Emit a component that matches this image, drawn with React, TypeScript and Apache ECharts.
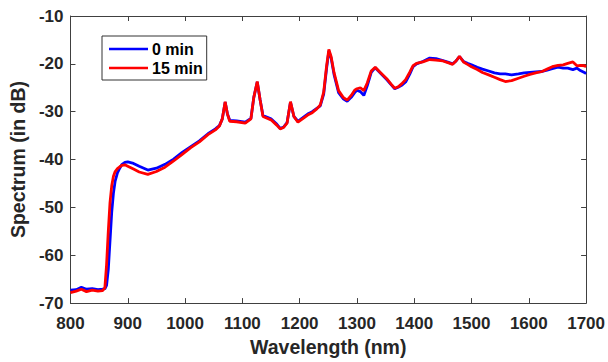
import React, { useEffect, useRef } from "react";
import * as echarts from "echarts";

const wavelengths = [800, 810, 819, 828, 838, 848, 856, 860, 863, 866, 869, 872, 875, 878, 882, 886, 890, 895, 900, 910, 920, 935, 950, 965, 980, 995, 1010, 1025, 1040, 1053, 1060, 1065, 1070, 1074, 1078, 1090, 1105, 1115, 1120, 1126, 1131, 1136, 1150, 1160, 1166, 1172, 1178, 1184, 1190, 1197, 1205, 1214, 1222, 1230, 1236, 1242, 1247, 1251, 1255, 1260, 1268, 1276, 1283, 1290, 1296, 1300, 1306, 1312, 1318, 1325, 1332, 1340, 1352, 1360, 1366, 1372, 1378, 1385, 1392, 1398, 1404, 1415, 1427, 1438, 1450, 1460, 1467, 1473, 1479, 1486, 1493, 1500, 1510, 1519, 1530, 1540, 1550, 1559, 1570, 1582, 1592, 1602, 1612, 1623, 1632, 1641, 1651, 1660, 1668, 1677, 1684, 1690, 1697, 1700];

const spectrum0min = [-67.3, -67.2, -66.7, -67.1, -67.0, -67.2, -67.1, -67.0, -66.3, -63, -57, -51, -47, -44.5, -42.8, -41.8, -41.0, -40.6, -40.5, -40.8, -41.4, -42.2, -41.8, -41.0, -39.9, -38.5, -37.3, -36.1, -34.6, -33.6, -32.9, -31.5, -28.0, -30.5, -31.8, -31.9, -32.2, -31.4, -27, -23.8, -27.5, -30.8, -31.5, -32.6, -33.5, -33.2, -32.3, -28.0, -31.0, -32.0, -31.3, -30.5, -30.0, -29.3, -28.8, -26.3, -21, -17.3, -18.8, -22.2, -26.0, -27.3, -27.8, -27.0, -26.0, -25.5, -25.8, -26.6, -24.6, -21.8, -20.8, -21.8, -23.3, -24.4, -25.2, -24.9, -24.5, -23.8, -22.2, -20.6, -20.0, -19.5, -18.8, -18.9, -19.3, -19.7, -20.0, -19.4, -18.5, -19.5, -19.9, -20.2, -20.7, -21.1, -21.5, -21.9, -22.1, -22.1, -22.3, -22.1, -21.9, -21.8, -21.7, -21.6, -21.3, -21.0, -20.7, -20.9, -20.9, -21.2, -20.9, -21.4, -21.8, -22.0];

const spectrum15min = [-67.8, -67.5, -67.1, -67.6, -67.3, -67.5, -67.4, -66.8, -62, -55, -49, -45.5, -43.5, -42.5, -41.9, -41.5, -41.2, -41.1, -41.4, -42.0, -42.6, -43.1, -42.5, -41.6, -40.3, -38.9, -37.5, -36.3, -34.8, -33.8, -33.0, -31.5, -27.9, -30.5, -32.0, -32.1, -32.4, -31.5, -27, -23.7, -27.5, -31.0, -31.7, -32.8, -33.6, -33.3, -32.4, -27.9, -31.0, -32.2, -31.5, -30.7, -30.2, -29.4, -28.6, -25.9, -20.5, -17.0, -18.5, -21.8, -25.6, -27.0, -27.6, -26.6, -25.5, -25.2, -25.0, -25.6, -24.0, -21.5, -20.7, -21.7, -23.1, -24.3, -25.1, -24.8, -24.2, -23.3, -21.8, -20.4, -19.9, -19.6, -19.1, -19.2, -19.4, -19.8, -20.1, -19.4, -18.4, -19.6, -20.1, -20.6, -21.2, -21.8, -22.3, -22.8, -23.3, -23.7, -23.5, -23.0, -22.6, -22.2, -21.9, -21.6, -21.1, -20.6, -20.3, -20.2, -19.9, -19.6, -20.4, -20.3, -20.4, -20.6];

const seriesNames = ["0 min", "15 min"];
const seriesColors = ["#0000FF", "#FF0000"];

const textColor = "#262626";
const axisColor = "#404040";
const fontFamily = "'Liberation Sans', Arial, sans-serif";

export default function App() {
  const ref = useRef<HTMLDivElement>(null);
  useEffect(() => {
    if (!ref.current) return;
    const chart = echarts.init(ref.current, undefined, { renderer: "svg" });
    const tickStyle = { show: true, inside: true, length: 5, lineStyle: { color: axisColor } };
    const lineStyle = { show: true, onZero: false, lineStyle: { color: axisColor, width: 1 } };
    chart.setOption({
      animation: false,
      backgroundColor: "#ffffff",
      grid: { left: 67, top: 16, right: 20, bottom: 54, containLabel: false },
      legend: {
        data: seriesNames,
        orient: "vertical",
        left: 102,
        top: 36,
        padding: [5, 4, 4, 7],
        itemGap: 3,
        itemWidth: 39,
        itemHeight: 2.5,
        icon: "rect",
        borderColor: "#333",
        borderWidth: 1,
        backgroundColor: "#fff",
        textStyle: { color: "#000", fontSize: 16, fontWeight: "bold", fontFamily, lineHeight: 16, padding: [0, 0, 0, -1] },
      },
      xAxis: [
        {
          type: "value",
          min: 800,
          max: 1700,
          interval: 100,
          name: "Wavelength (nm)",
          nameLocation: "middle",
          nameGap: 33,
          nameTextStyle: { color: textColor, fontSize: 19.5, fontWeight: "bold", fontFamily },
          axisLine: lineStyle,
          axisTick: tickStyle,
          axisLabel: { color: textColor, fontSize: 17, fontWeight: "bold", fontFamily, margin: 12, formatter: (v: number) => String(v) },
          splitLine: { show: false },
        },
        {
          type: "value",
          position: "top",
          min: 800,
          max: 1700,
          interval: 100,
          axisLine: lineStyle,
          axisTick: tickStyle,
          axisLabel: { show: false },
          splitLine: { show: false },
        },
      ],
      yAxis: [
        {
          type: "value",
          min: -70,
          max: -10,
          interval: 10,
          name: "Spectrum (in dB)",
          nameLocation: "middle",
          nameGap: 37,
          nameTextStyle: { color: textColor, fontSize: 19.5, fontWeight: "bold", fontFamily },
          axisLine: lineStyle,
          axisTick: tickStyle,
          axisLabel: { color: textColor, fontSize: 17, fontWeight: "bold", fontFamily, margin: 7 },
          splitLine: { show: false },
        },
        {
          type: "value",
          position: "right",
          min: -70,
          max: -10,
          interval: 10,
          axisLine: lineStyle,
          axisTick: tickStyle,
          axisLabel: { show: false },
          splitLine: { show: false },
        },
      ],
      series: [spectrum0min, spectrum15min].map((vals, i) => ({
        name: seriesNames[i],
        type: "line",
        xAxisIndex: 0,
        yAxisIndex: 0,
        data: wavelengths.map((w, j) => [w, vals[j]]),
        showSymbol: false,
        symbol: "none",
        smooth: false,
        itemStyle: { color: seriesColors[i] },
        lineStyle: { color: seriesColors[i], width: 2.8 },
        z: 2 + i,
      })),
    });
    return () => chart.dispose();
  }, []);
  return <div ref={ref} style={{ width: 608, height: 362, position: "absolute", left: 0, top: 0 }} />;
}
